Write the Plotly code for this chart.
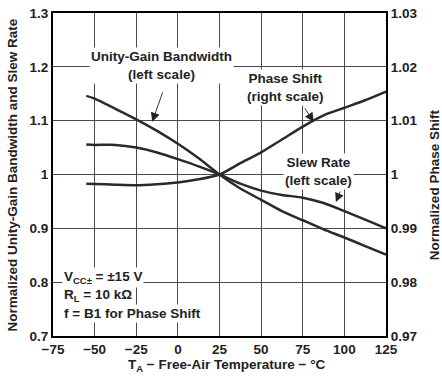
import plotly.graph_objects as go

# Data
temp_c = [-55, -50, -37.5, -25, -12.5, 0, 12.5, 25, 37.5, 50, 62.5, 75, 87.5, 100, 112.5, 125]
unity_gain_bw = [1.146, 1.141, 1.122, 1.1025, 1.081, 1.057, 1.030, 1.0, 0.974, 0.953, 0.932, 0.915, 0.898, 0.883, 0.867, 0.851]
slew_rate = [1.0555, 1.055, 1.055, 1.050, 1.041, 1.0285, 1.015, 1.0, 0.983, 0.970, 0.962, 0.957, 0.947, 0.932, 0.916, 0.900]
phase_shift = [0.9983, 0.99825, 0.9981, 0.9980, 0.9982, 0.9985, 0.9991, 1.0, 1.0021, 1.0041, 1.0065, 1.0089, 1.0110, 1.0124, 1.0138, 1.0154]

x_ticks = [-75, -50, -25, 0, 25, 50, 75, 100, 125]
x_tick_text = ["\u221275", "\u221250", "\u221225", "0", "25", "50", "75", "100", "125"]
y_left_ticks = [0.7, 0.8, 0.9, 1.0, 1.1, 1.2, 1.3]
y_left_text = ["0.7", "0.8", "0.9", "1", "1.1", "1.2", "1.3"]
y_right_ticks = [0.97, 0.98, 0.99, 1.0, 1.01, 1.02, 1.03]
y_right_text = ["0.97", "0.98", "0.99", "1", "1.01", "1.02", "1.03"]

FONT = "Liberation Sans, Arial, sans-serif"
TXT = "#222222"
LINE = "#2a2a2a"
GRID = "#4a4a4a"

fig = go.Figure()
line_style = dict(color=LINE, width=2.5, shape="spline", smoothing=0.6)
fig.add_trace(go.Scatter(x=temp_c, y=unity_gain_bw, mode="lines", line=line_style,
                         name="Unity-Gain Bandwidth", showlegend=False))
fig.add_trace(go.Scatter(x=temp_c, y=slew_rate, mode="lines", line=line_style,
                         name="Slew Rate", showlegend=False))
fig.add_trace(go.Scatter(x=temp_c, y=phase_shift, mode="lines", line=line_style,
                         name="Phase Shift", yaxis="y2", showlegend=False))

tickfont = dict(family=FONT, size=13.5, color=TXT, weight="bold")

fig.update_layout(
    width=442, height=377,
    margin=dict(l=53, r=56, t=5.5, b=40.5),
    paper_bgcolor="white", plot_bgcolor="white",
    font=dict(family=FONT, size=13.5, color=TXT, weight="bold"),
    xaxis=dict(range=[-75, 125], tickvals=x_ticks, ticktext=x_tick_text,
               showgrid=True, gridcolor=GRID, gridwidth=1,
               showline=True, linecolor="black", linewidth=2, mirror=True,
               ticks="", tickfont=tickfont, zeroline=False, ticklabeloverflow="allow"),
    yaxis=dict(range=[0.7, 1.3], tickvals=y_left_ticks, ticktext=y_left_text,
               showgrid=True, gridcolor=GRID, gridwidth=1,
               showline=True, linecolor="black", linewidth=2, mirror=True,
               ticks="", tickfont=tickfont, zeroline=False, ticklabeloverflow="allow"),
    yaxis2=dict(range=[0.97, 1.03], tickvals=y_right_ticks, ticktext=y_right_text,
                overlaying="y", side="right", showgrid=False,
                showline=True, linecolor="black", linewidth=2,
                ticks="", tickfont=tickfont, zeroline=False, ticklabeloverflow="allow"),
)

ann_font = dict(family=FONT, size=13.5, color=TXT, weight="bold")
labels = [
    ("Unity-Gain Bandwidth<br>(left scale)", -10, 1.203),
    ("Phase Shift<br>(right scale)", 64.5, 1.161),
    ("Slew Rate<br>(left scale)", 84.4, 1.005),
]
for text, xv, yv in labels:
    fig.add_annotation(x=xv, y=yv, xref="x", yref="y", text=text, showarrow=False,
                       font=ann_font, bgcolor="white", align="center")

arrows = [(-15.4, 1.098, 11, -31), (81.6, 1.098, -10, -15), (94.9, 0.949, 5, -12)]
for xv, yv, axp, ayp in arrows:
    fig.add_annotation(x=xv, y=yv, xref="x", yref="y", text="", showarrow=True,
                       ax=axp, ay=ayp, arrowhead=2, arrowsize=2, arrowwidth=0.9,
                       arrowcolor=TXT)

cond_lines = [
    ("V<sub>CC\u00b1</sub> = \u00b115 V", 0.808),
    ("R<sub>L</sub> = 10 k\u03a9", 0.775),
    ("f = B1 for Phase Shift", 0.742),
]
for text, yv in cond_lines:
    fig.add_annotation(x=-69.5, y=yv, xref="x", yref="y", text=text, showarrow=False,
                       xanchor="left", yanchor="middle", font=ann_font, bgcolor="white",
                       align="left")

# Axis titles
fig.add_annotation(x=-0.123, y=0.497, xref="paper", yref="paper",
                   text="Normalized Unity-Gain Bandwidth and Slew Rate",
                   textangle=-90, showarrow=False, font=ann_font,
                   xanchor="center", yanchor="middle")
fig.add_annotation(x=1.144, y=0.47, xref="paper", yref="paper",
                   text="Normalized Phase Shift",
                   textangle=-90, showarrow=False, font=ann_font,
                   xanchor="center", yanchor="middle")
fig.add_annotation(x=0.523, y=-0.092, xref="paper", yref="paper",
                   text="T<sub>A</sub> \u2212 Free-Air Temperature \u2212 \u00b0C",
                   showarrow=False, font=ann_font,
                   xanchor="center", yanchor="middle")

fig.write_html(
    "out.html",
    config={"displayModeBar": False},
    post_script="document.body.style.margin='0';document.body.style.overflow='hidden';",
)
